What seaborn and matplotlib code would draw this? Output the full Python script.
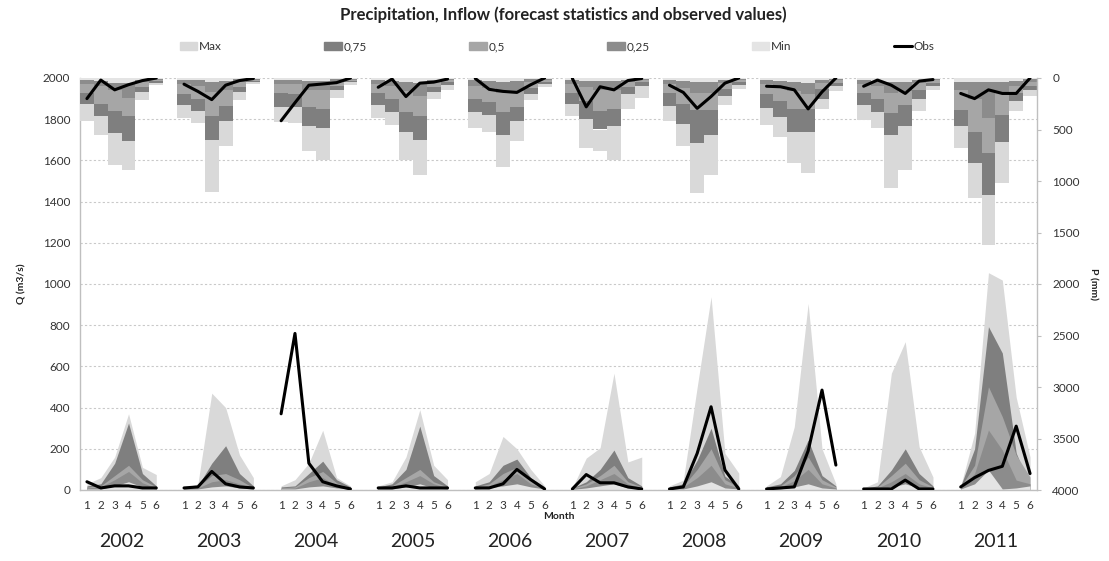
import numpy as np
import pandas as pd
import matplotlib
matplotlib.use("Agg")
import matplotlib.pyplot as plt
import seaborn as sns
from matplotlib.patches import Patch
from matplotlib.lines import Line2D

years = [2002, 2003, 2004, 2005, 2006, 2007, 2008, 2009, 2010, 2011]
months = [1, 2, 3, 4, 5, 6]

# Precipitation forecast statistics (mm), cumulative levels, one row per year (months 1-6)
p_min = [[20, 30, 50, 50, 15, 5], [15, 20, 40, 30, 10, 5], [20, 20, 30, 30, 10, 5],
         [20, 30, 40, 50, 15, 5], [20, 30, 40, 30, 10, 5], [20, 30, 30, 30, 15, 5],
         [20, 30, 40, 40, 15, 5], [20, 30, 40, 50, 15, 5], [20, 30, 40, 40, 15, 5],
         [40, 40, 40, 40, 30, 10]]
p_q25 = [[60, 80, 120, 190, 40, 15], [60, 80, 140, 120, 40, 15], [60, 60, 120, 120, 40, 15],
         [60, 80, 130, 170, 40, 20], [80, 100, 150, 130, 40, 15], [60, 90, 120, 120, 40, 15],
         [60, 100, 150, 150, 50, 20], [60, 90, 130, 160, 50, 20], [60, 80, 150, 130, 50, 20],
         [120, 200, 390, 150, 80, 40]]
p_q50 = [[150, 250, 320, 370, 90, 30], [160, 200, 370, 270, 90, 30], [150, 160, 280, 300, 80, 30],
         [150, 200, 330, 370, 90, 40], [200, 230, 330, 280, 100, 40], [150, 220, 320, 300, 90, 40],
         [150, 250, 310, 310, 110, 40], [160, 220, 300, 300, 110, 50], [150, 200, 340, 260, 120, 50],
         [310, 520, 730, 360, 150, 80]]
p_q75 = [[250, 370, 530, 610, 140, 45], [260, 320, 600, 420, 140, 40], [280, 280, 470, 490, 120, 40],
         [260, 330, 520, 600, 140, 70], [330, 360, 550, 420, 160, 60], [250, 400, 500, 470, 160, 80],
         [270, 450, 630, 550, 170, 70], [290, 380, 520, 520, 200, 80], [260, 330, 550, 470, 200, 80],
         [470, 830, 1135, 620, 226, 120]]
p_max = [[420, 550, 845, 890, 215, 70], [390, 435, 1110, 660, 215, 60], [425, 440, 712, 800, 190, 65],
         [390, 455, 795, 940, 200, 120], [485, 520, 860, 615, 215, 90], [372, 680, 712, 795, 300, 190],
         [420, 665, 1120, 940, 260, 110], [455, 570, 825, 925, 300, 130], [405, 485, 1070, 890, 325, 120],
         [680, 1165, 1620, 1020, 325, 170]]
p_obs = [[200, 20, 115, 65, 25, 0], [60, 130, 210, 70, 25, 5], [415, 240, 70, 58, 45, 0],
         [90, 10, 180, 50, 40, 10], [5, 110, 130, 140, 65, 0], [5, 280, 85, 115, 25, 5],
         [70, 140, 295, 180, 50, 0], [80, 85, 115, 300, 135, 0], [80, 20, 70, 150, 30, 15],
         [150, 200, 115, 150, 150, 0]]

# Inflow forecast statistics (m3/s)
q_max = [[30, 60, 160, 370, 110, 75], [10, 30, 470, 400, 170, 60], [20, 50, 130, 290, 60, 20],
         [20, 40, 160, 390, 120, 50], [40, 80, 260, 200, 100, 20], [10, 155, 205, 567, 136, 160],
         [20, 48, 500, 938, 178, 82], [20, 65, 307, 906, 200, 30], [10, 40, 567, 720, 210, 63],
         [20, 275, 1055, 1019, 450, 160]]
q_q75 = [[20, 30, 130, 325, 80, 20], [10, 20, 130, 215, 80, 20], [15, 20, 80, 140, 50, 15],
         [15, 30, 100, 310, 70, 20], [20, 40, 120, 150, 60, 15], [10, 40, 100, 194, 60, 20],
         [15, 30, 145, 300, 67, 20], [15, 30, 95, 243, 70, 20], [8, 20, 97, 200, 80, 20],
         [20, 200, 793, 665, 180, 15]]
q_q50 = [[15, 20, 70, 120, 50, 15], [5, 15, 70, 80, 50, 10], [10, 15, 60, 90, 35, 10],
         [10, 20, 60, 100, 40, 15], [15, 30, 80, 110, 50, 10], [8, 30, 70, 120, 40, 15],
         [10, 20, 100, 200, 50, 15], [10, 20, 70, 160, 50, 15], [5, 15, 70, 130, 50, 15],
         [15, 120, 501, 356, 170, 63]]
q_q25 = [[10, 15, 50, 90, 35, 10], [5, 10, 40, 50, 30, 8], [8, 10, 40, 60, 20, 8],
         [8, 15, 40, 70, 30, 10], [10, 20, 50, 80, 30, 8], [5, 20, 50, 80, 30, 10],
         [8, 15, 60, 120, 30, 10], [8, 15, 45, 100, 30, 10], [4, 10, 40, 80, 30, 10],
         [10, 80, 291, 194, 48, 30]]
q_min = [[5, 5, 20, 40, 15, 5], [3, 5, 15, 20, 10, 5], [5, 5, 15, 20, 10, 5],
         [5, 5, 15, 30, 10, 5], [5, 10, 20, 30, 15, 5], [3, 10, 20, 30, 10, 5],
         [5, 5, 20, 40, 10, 5], [5, 5, 15, 30, 10, 5], [2, 5, 15, 30, 10, 5],
         [5, 30, 97, 5, 10, 20]]
q_obs = [[40, 10, 20, 20, 10, 10], [10, 15, 90, 30, 15, 10], [370, 760, 130, 40, 20, 5],
         [10, 10, 20, 10, 10, 10], [10, 10, 30, 100, 50, 5], [5, 75, 35, 35, 15, 5],
         [5, 15, 178, 404, 97, 5], [5, 10, 15, 190, 485, 121], [5, 5, 5, 48, 5, 5],
         [15, 60, 95, 115, 310, 80]]

series_names = ["Max", "0,75", "0,5", "0,25", "Min", "Obs"]
c_max, c_q75, c_q50, c_q25, c_min = "#d9d9d9", "#7f7f7f", "#a6a6a6", "#8c8c8c", "#e4e4e4"

sns.set_style("white")
plt.rcParams['font.family'] = ['Lato', 'DejaVu Sans']

W, H = 1109, 561
fig = plt.figure(figsize=(W / 100, H / 100), dpi=100)
L, R, T, B = 80, 1037, 78, 490
ax = fig.add_axes([L / W, 1 - B / H, (R - L) / W, (B - T) / H])
ax2 = ax.twinx()

n_y, n_m = len(years), len(months)
xpos = np.array([[yi * (n_m + 1) + mi for mi in range(n_m)] for yi in range(n_y)])
flat_x = xpos.ravel()

# Inflow areas (overlapping, drawn from widest to narrowest)
for vals, col in [(q_max, c_max), (q_q75, c_q75), (q_q50, c_q50), (q_q25, c_q25), (q_min, c_min)]:
    for yi in range(n_y):
        ax.fill_between(xpos[yi], 0, vals[yi], color=col, lw=0, zorder=2)

# Precipitation stacked bars on inverted secondary axis
prev = np.zeros(flat_x.size)
for vals, col in [(p_min, c_min), (p_q25, c_q25), (p_q50, c_q50), (p_q75, c_q75), (p_max, c_max)]:
    v = np.array(vals, dtype=float).ravel()
    ax2.bar(flat_x, v - prev, bottom=prev, width=1.0, color=col, lw=0, zorder=2)
    prev = v

df = pd.DataFrame({"x": flat_x, "year": np.repeat(years, n_m),
                   "q": np.array(q_obs).ravel(), "p": np.array(p_obs).ravel()})
sns.lineplot(data=df, x="x", y="q", units="year", estimator=None, color="black",
             lw=2.2, ax=ax, legend=False, zorder=5)
sns.lineplot(data=df, x="x", y="p", units="year", estimator=None, color="black",
             lw=2.2, ax=ax2, legend=False, zorder=5)

ax.set_xlim(-0.5, flat_x.max() + 0.5)
ax.set_ylim(0, 2000)
ax2.set_ylim(4000, 0)
ax.set_yticks(np.arange(0, 2001, 200))
ax2.set_yticks(np.arange(0, 4001, 500))
ax.set_xticks(flat_x)
ax.set_xticklabels([str(m) for _ in years for m in months])
ax.set_ylabel("")
ax2.set_ylabel("")
ax.set_xlabel("Month", fontsize=7.5, fontweight="bold", labelpad=1, color="#222222")

ax.set_axisbelow(True)
ax.yaxis.grid(True, linestyle=(0, (2, 2)), color="#c9c9c9", lw=0.8)
ax.xaxis.grid(False)
ax2.grid(False)

for a in (ax, ax2):
    for s in a.spines.values():
        s.set_visible(False)
ax.spines["left"].set_visible(True)
ax.spines["bottom"].set_visible(True)
ax2.spines["right"].set_visible(True)
for s in (ax.spines["left"], ax.spines["bottom"], ax2.spines["right"]):
    s.set_color("#bfbfbf")
    s.set_linewidth(1.0)

ax.tick_params(axis="y", length=0, pad=7, labelsize=8.5, labelcolor="#333333")
ax.tick_params(axis="x", length=0, pad=7, labelsize=8.5, labelcolor="#333333")
ax2.tick_params(axis="y", length=3, width=0.8, color="#bfbfbf", pad=8, labelsize=8.5,
                labelcolor="#333333")

for yi, yr in enumerate(years):
    ax.text(xpos[yi].mean(), -0.124, str(yr), transform=ax.get_xaxis_transform(),
            ha="center", va="center", fontsize=14, color="#222222")

fig.text(563 / W, 1 - 15 / H, "Precipitation, Inflow (forecast statistics and observed values)",
         ha="center", va="center", fontsize=12, fontweight="bold", color="#222222")
fig.text(22 / W, 1 - 284 / H, "Q (m3/s)", rotation=90, ha="center", va="center",
         fontsize=7.5, fontweight="bold", color="#222222")
fig.text(1093 / W, 1 - 284 / H, "P (mm)", rotation=270, ha="center", va="center",
         fontsize=7.5, fontweight="bold", color="#222222")

handles = [Patch(color=c_max), Patch(color=c_q75), Patch(color=c_q50), Patch(color=c_q25),
           Patch(color=c_min), Line2D([0], [0], color="black", lw=2.2)]
fig.legend(handles, series_names, loc="center", bbox_to_anchor=(557 / W, 1 - 47 / H), ncol=6,
           frameon=False, fontsize=8.5, handlelength=1.5, handleheight=0.7, handletextpad=0.15,
           columnspacing=8.65, labelcolor="#333333")

fig.savefig("out.png", dpi=100)
